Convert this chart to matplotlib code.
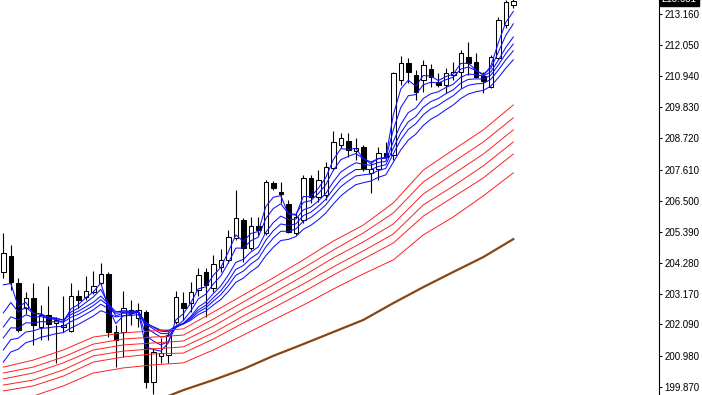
import matplotlib.pyplot as plt
import matplotlib.transforms as mtransforms
import numpy as np

# candles
opens = [203.96, 204.53, 203.57, 202.68, 203.03, 202.00, 202.43, 202.14, 202.00, 201.86,
         203.10, 203.07, 203.25, 203.57, 203.89, 201.82, 201.82, 202.61, 202.32, 202.53,
         200.04, 200.97, 201.00, 202.18, 202.85, 202.85, 203.32, 203.96, 203.39, 204.14,
         204.39, 205.17, 205.81, 204.81, 205.60, 205.35, 207.13, 206.81, 206.38, 205.35,
         205.81, 207.31, 206.63, 206.70, 207.66, 208.48, 208.63, 208.27, 208.41, 207.49,
         207.63, 208.20, 208.13, 210.80, 211.41, 210.98, 210.80, 211.19, 210.73, 210.62,
         210.98, 211.09, 211.62, 211.44, 210.94, 210.55, 211.58, 212.76, 213.47]
highs = [205.35, 204.92, 203.75, 203.25, 203.57, 202.78, 203.46, 202.36, 203.10, 203.57,
         203.32, 203.82, 203.99, 204.28, 203.96, 202.07, 203.28, 202.96, 202.85, 202.61,
         201.25, 201.61, 201.82, 203.28, 203.25, 203.60, 204.10, 204.10, 204.56, 204.78,
         205.46, 206.88, 205.88, 205.92, 205.92, 207.24, 207.20, 207.17, 206.52, 206.06,
         207.42, 207.42, 207.59, 207.88, 208.98, 208.91, 208.91, 208.73, 208.48, 207.88,
         208.41, 208.59, 211.09, 211.66, 211.58, 211.16, 211.51, 211.37, 211.05, 211.23,
         211.44, 211.87, 212.15, 211.76, 211.09, 211.69, 213.04, 213.65, 213.76]
lows = [203.75, 203.32, 201.82, 202.46, 201.36, 201.54, 201.54, 200.72, 201.82, 201.82,
        202.68, 202.96, 203.18, 203.50, 201.64, 200.57, 200.93, 202.07, 202.00, 199.83,
        199.61, 200.72, 200.72, 202.11, 202.25, 202.53, 203.10, 202.36, 203.25, 203.96,
        204.28, 205.10, 204.32, 204.74, 205.28, 205.28, 206.88, 206.42, 205.35, 205.28,
        205.71, 206.42, 206.45, 206.52, 207.59, 208.38, 208.06, 207.95, 207.56, 206.77,
        207.24, 207.95, 207.95, 210.62, 210.69, 210.09, 210.37, 210.55, 210.55, 210.34,
        210.80, 210.52, 210.98, 210.87, 210.34, 210.52, 211.51, 212.65, 213.37]
closes = [204.64, 203.60, 201.89, 203.03, 202.07, 202.43, 202.11, 202.25, 202.07, 203.10,
          202.96, 203.28, 203.46, 203.89, 201.82, 201.54, 202.68, 202.50, 202.61, 200.04,
          201.11, 201.07, 201.71, 203.07, 202.68, 203.25, 203.85, 203.50, 204.24, 204.39,
          205.21, 205.88, 204.81, 205.60, 205.46, 207.17, 206.95, 206.74, 205.38, 205.92,
          207.31, 206.63, 207.24, 207.70, 208.59, 208.73, 208.31, 208.38, 207.63, 207.63,
          208.20, 208.06, 211.05, 211.41, 211.09, 210.37, 211.33, 210.91, 210.62, 211.05,
          211.09, 211.76, 211.41, 210.91, 210.76, 211.62, 212.94, 213.58, 213.63]

# short-term averages (blue), one value per candle
blue1 = [203.50, 203.55, 202.72, 202.88, 202.48, 202.46, 202.29, 202.27, 202.17, 202.64,
         202.80, 203.04, 203.25, 203.57, 202.70, 202.12, 202.40, 202.45, 202.53, 201.29,
         201.20, 201.14, 201.43, 202.25, 202.47, 202.86, 203.36, 203.43, 203.84, 204.12,
         204.67, 205.28, 205.05, 205.33, 205.40, 206.29, 206.62, 206.68, 206.03, 205.98,
         206.65, 206.64, 206.94, 207.32, 207.96, 208.35, 208.33, 208.36, 208.00, 207.82,
         208.01, 208.04, 209.55, 210.48, 210.79, 210.58, 210.96, 210.94, 210.78, 210.92,
         211.01, 211.39, 211.40, 211.16, 210.96, 211.29, 212.12, 212.85, 213.24]
blue2 = [202.50, 202.87, 202.54, 202.70, 202.49, 202.47, 202.35, 202.32, 202.24, 202.53,
         202.67, 202.87, 203.07, 203.34, 202.83, 202.40, 202.49, 202.49, 202.53, 201.70,
         201.50, 201.36, 201.48, 202.01, 202.23, 202.57, 203.00, 203.17, 203.53, 203.82,
         204.28, 204.81, 204.81, 205.07, 205.20, 205.86, 206.22, 206.39, 206.05, 206.01,
         206.44, 206.50, 206.75, 207.07, 207.58, 207.96, 208.08, 208.18, 208.00, 207.88,
         207.99, 208.01, 209.02, 209.82, 210.24, 210.28, 210.63, 210.72, 210.69, 210.81,
         210.90, 211.19, 211.26, 211.14, 211.01, 211.21, 211.79, 212.39, 212.80]
blue3 = [202.00, 202.36, 202.26, 202.43, 202.35, 202.37, 202.31, 202.30, 202.25, 202.44,
         202.56, 202.72, 202.88, 203.10, 202.82, 202.54, 202.57, 202.55, 202.56, 202.00,
         201.80, 201.64, 201.66, 201.97, 202.13, 202.38, 202.71, 202.89, 203.19, 203.46,
         203.85, 204.30, 204.41, 204.67, 204.85, 205.37, 205.72, 205.95, 205.82, 205.84,
         206.17, 206.27, 206.49, 206.76, 207.17, 207.52, 207.70, 207.85, 207.80, 207.76,
         207.86, 207.90, 208.60, 209.22, 209.64, 209.80, 210.14, 210.31, 210.38, 210.53,
         210.65, 210.90, 211.01, 210.99, 210.94, 211.09, 211.50, 211.96, 212.33]
blue4 = [201.61, 201.97, 201.96, 202.15, 202.14, 202.19, 202.18, 202.19, 202.17, 202.34,
         202.45, 202.60, 202.76, 202.97, 202.76, 202.54, 202.57, 202.56, 202.57, 202.11,
         201.93, 201.77, 201.76, 202.00, 202.12, 202.33, 202.61, 202.77, 203.04, 203.29,
         203.64, 204.05, 204.19, 204.45, 204.63, 205.09, 205.43, 205.67, 205.62, 205.67,
         205.97, 206.09, 206.30, 206.55, 206.92, 207.25, 207.44, 207.61, 207.61, 207.61,
         207.72, 207.78, 208.37, 208.92, 209.31, 209.50, 209.83, 210.03, 210.14, 210.31,
         210.45, 210.69, 210.82, 210.84, 210.83, 210.97, 211.33, 211.74, 212.08]
blue5 = [201.18, 201.55, 201.60, 201.82, 201.86, 201.95, 201.97, 202.01, 202.02, 202.19,
         202.31, 202.46, 202.61, 202.81, 202.66, 202.49, 202.52, 202.52, 202.53, 202.15,
         201.99, 201.85, 201.83, 202.02, 202.12, 202.29, 202.53, 202.68, 202.92, 203.15,
         203.47, 203.84, 203.99, 204.24, 204.43, 204.85, 205.17, 205.41, 205.41, 205.49,
         205.77, 205.90, 206.11, 206.35, 206.69, 207.00, 207.20, 207.38, 207.42, 207.45,
         207.57, 207.65, 208.17, 208.67, 209.04, 209.24, 209.56, 209.77, 209.90, 210.08,
         210.24, 210.47, 210.61, 210.66, 210.68, 210.82, 211.15, 211.52, 211.84]
blue6 = [200.75, 201.11, 201.21, 201.44, 201.52, 201.63, 201.69, 201.76, 201.80, 201.96,
         202.09, 202.24, 202.39, 202.58, 202.48, 202.36, 202.40, 202.41, 202.44, 202.14,
         202.01, 201.89, 201.87, 202.02, 202.10, 202.24, 202.44, 202.57, 202.78, 202.98,
         203.26, 203.59, 203.74, 203.97, 204.16, 204.54, 204.84, 205.08, 205.12, 205.22,
         205.48, 205.62, 205.82, 206.06, 206.38, 206.67, 206.88, 207.07, 207.14, 207.20,
         207.33, 207.42, 207.87, 208.31, 208.66, 208.87, 209.18, 209.40, 209.55, 209.74,
         209.91, 210.14, 210.30, 210.38, 210.43, 210.58, 210.88, 211.22, 211.52]

# long-term averages (red), read every 4th candle
red_idx = list(range(0, 69, 4))
red1 = [200.57, 200.82, 201.18, 201.64, 201.79, 201.86, 201.93, 202.53, 203.14,
        203.75, 204.39, 205.06, 205.63, 206.42, 207.59, 208.31, 209.02, 209.91]
red2 = [200.36, 200.57, 200.93, 201.39, 201.57, 201.64, 201.71, 202.28, 202.89,
        203.50, 204.10, 204.74, 205.35, 206.06, 207.17, 207.88, 208.59, 209.45]
red3 = [200.15, 200.36, 200.72, 201.18, 201.36, 201.43, 201.50, 202.03, 202.64,
        203.21, 203.82, 204.46, 205.03, 205.67, 206.74, 207.45, 208.16, 209.02]
red4 = [199.93, 200.11, 200.47, 200.97, 201.14, 201.22, 201.29, 201.79, 202.39,
        202.96, 203.53, 204.14, 204.71, 205.31, 206.35, 207.02, 207.74, 208.59]
red5 = [199.72, 199.90, 200.25, 200.75, 200.93, 201.04, 201.07, 201.57, 202.14,
        202.68, 203.25, 203.85, 204.42, 204.99, 205.95, 206.63, 207.31, 208.16]
red6 = [199.40, 199.54, 199.90, 200.36, 200.54, 200.65, 200.72, 201.18, 201.71,
        202.25, 202.78, 203.35, 203.89, 204.39, 205.28, 205.92, 206.67, 207.49]

# slow average (brown)
brown_idx = [20, 22, 24, 28, 32, 36, 40, 44, 48, 52, 56, 60, 64, 68]
brown = [199.40, 199.54, 199.75, 200.11, 200.50, 200.97, 201.39, 201.82, 202.25,
         202.85, 203.42, 203.96, 204.49, 205.13]

tick_vals = [213.160, 212.050, 210.940, 209.830, 208.720, 207.610, 206.500,
             205.390, 204.280, 203.170, 202.090, 200.980, 199.870]
last_price = "213.631"

plt.rcParams['font.family'] = ['Liberation Sans', 'DejaVu Sans']

fig = plt.figure(figsize=(7.02, 3.95), dpi=100)
ax = fig.add_axes([0, 0, 659 / 702, 1])

o = np.array(opens)
c = np.array(closes)
x = np.arange(len(c))
bull = c >= o

ax.vlines(x, lows, highs, color="black", lw=0.8, zorder=2)
body_lo = np.minimum(o, c)
body_h = np.maximum(np.abs(c - o), 0.015)
ax.bar(x, body_h, bottom=body_lo, width=0.6,
       color=np.where(bull, "white", "black"), edgecolor="black", lw=0.75, zorder=3)

for line in [blue1, blue2, blue3, blue4, blue5, blue6]:
    ax.plot(x, line, color="#1010ff", lw=0.75, zorder=4)
for line in [red1, red2, red3, red4, red5, red6]:
    ax.plot(red_idx, line, color="#ff2020", lw=0.7, zorder=4)
ax.plot(brown_idx, brown, color="#8b4513", lw=1.6, zorder=4)

ax.set_xlim(-0.44, 87.43)
ax.set_ylim(199.576, 213.65)

for s in ["top", "left", "bottom"]:
    ax.spines[s].set_visible(False)
ax.spines["right"].set_linewidth(0.8)
ax.set_xticks([])
ax.yaxis.tick_right()
ax.set_yticks(tick_vals)
ax.set_yticklabels([f"{v:.3f}" for v in tick_vals])
ax.tick_params(axis="y", direction="out", length=2.5, width=0.75, pad=1.5,
               labelsize=7, colors="black")

# current price marker, mostly cut off at the top (as in the screenshot)
trans = mtransforms.blended_transform_factory(ax.transAxes, ax.transData)
ax.text(1.004, 213.70, last_price, transform=trans, color="white", fontsize=7,
        va="center", ha="left", clip_on=False,
        bbox=dict(facecolor="black", edgecolor="black", pad=1.5))

fig.savefig("out.png", dpi=100)
